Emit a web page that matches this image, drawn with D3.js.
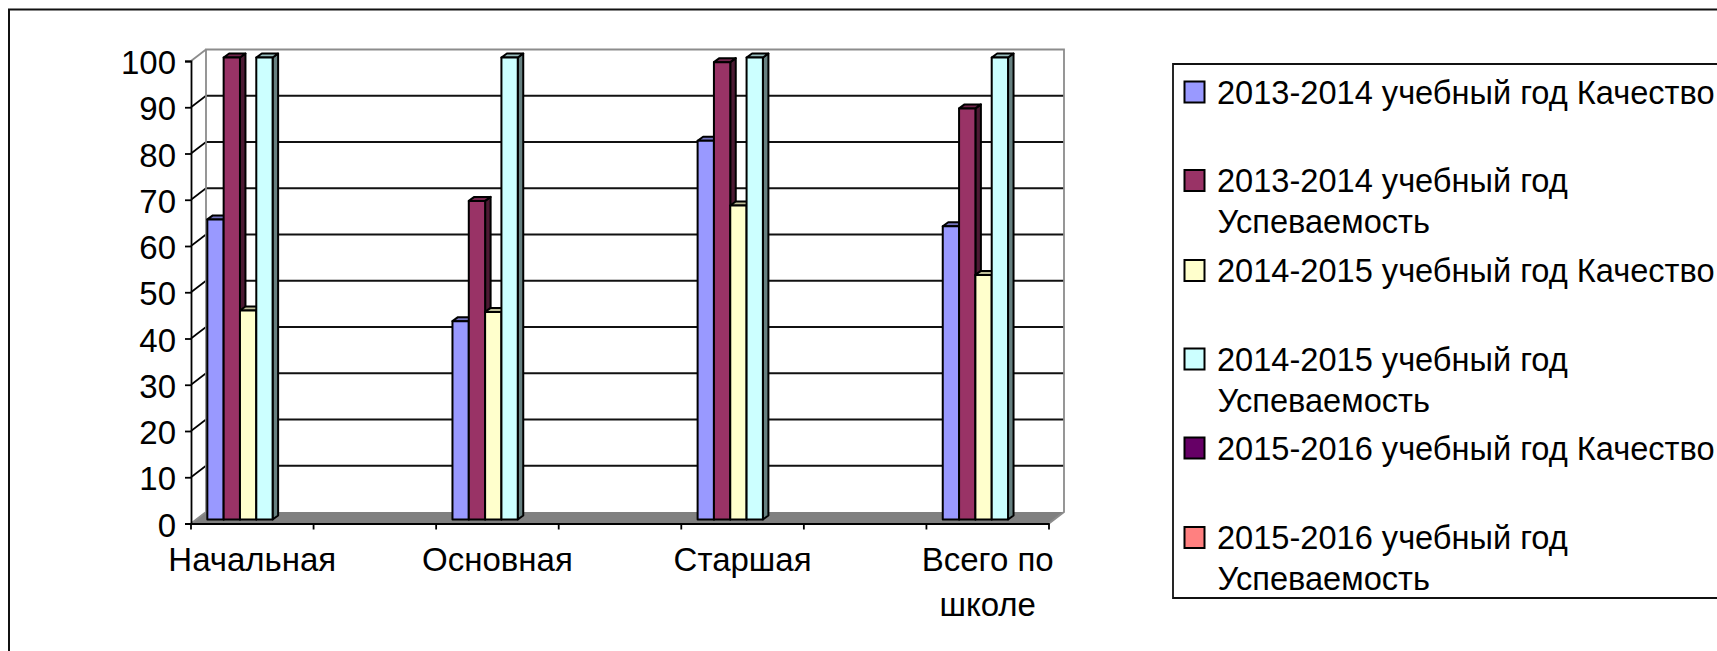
<!DOCTYPE html>
<html><head><meta charset="utf-8">
<script src="https://cdn.jsdelivr.net/npm/d3@7/dist/d3.min.js"></script>
<style>
html,body{margin:0;padding:0;background:#fff;overflow:hidden}
svg{display:block}
text{font-family:"Liberation Sans",Arial,sans-serif;font-size:33px;fill:#000}
</style></head><body>
<script>
const categories = ["Начальная", "", "Основная", "", "Старшая", "", "Всего по школе"];
const seriesNames = [
  "2013-2014 учебный год Качество",
  "2013-2014 учебный год Успеваемость",
  "2014-2015 учебный год Качество",
  "2014-2015 учебный год Успеваемость",
  "2015-2016 учебный год Качество",
  "2015-2016 учебный год Успеваемость"
];
const legendLines = [
  ["2013-2014 учебный год Качество"],
  ["2013-2014 учебный год", "Успеваемость"],
  ["2014-2015 учебный год Качество"],
  ["2014-2015 учебный год", "Успеваемость"],
  ["2015-2016 учебный год Качество"],
  ["2015-2016 учебный год", "Успеваемость"]
];
const colors = ["#9999FF", "#993366", "#FFFFCC", "#CCFFFF", "#660066", "#FF8080"];
const s1314q = [65, null, 43, null, 82, null, 63.5];
const s1314u = [100, null, 69, null, 99, null, 89];
const s1415q = [45.3, null, 45, null, 68, null, 53];
const s1415u = [100, null, 100, null, 100, null, 100];
const s1516q = [null, null, null, null, null, null, null];
const s1516u = [null, null, null, null, null, null, null];
const allSeries = [s1314q, s1314u, s1415q, s1415u, s1516q, s1516u];
const yTicks = [0, 10, 20, 30, 40, 50, 60, 70, 80, 90, 100];

const W = 1717, H = 651;
const axisX0 = 191, axisX1 = 1049, axisY0 = 523.5, axisY1 = 61;
const wallDx = 15, wallDy = -11.5;
const barShift = [4, -3.5], barDepth = [5.5, -4];

const svg = d3.select("body").append("svg").attr("width", W).attr("height", H);

const y = d3.scaleLinear().domain([0, 100]).range([axisY0, axisY1]);
const x = d3.scaleBand().domain(d3.range(categories.length)).range([axisX0, axisX1]);
const xs = d3.scaleBand().domain(d3.range(seriesNames.length))
  .range([0, x.bandwidth()]).paddingInner(0).paddingOuter(0.755);

// chart frame
svg.append("path").attr("d", `M9,${H + 5}V9.5H${W + 5}`)
  .attr("fill", "none").attr("stroke", "#111").attr("stroke-width", 2);

// floor
const wallTop = y(100) + wallDy;
const wallBot = y(0) + wallDy;
const wallL = axisX0 + wallDx, wallR = axisX1 + wallDx;
svg.append("path")
  .attr("d", `M${axisX0},${axisY0}L${wallL},${wallBot}H${wallR}L${axisX1},${axisY0}Z`)
  .attr("fill", "#808080");

// gridlines and their diagonals
const gridTicks = yTicks.filter(t => t > 0 && t < 100);
svg.append("g").selectAll("line").data(gridTicks).join("line")
  .attr("x1", wallL).attr("x2", wallR)
  .attr("y1", d => y(d) + wallDy).attr("y2", d => y(d) + wallDy)
  .attr("stroke", "#111").attr("stroke-width", 1.9);
svg.append("g").selectAll("line").data(gridTicks).join("line")
  .attr("x1", axisX0).attr("x2", wallL)
  .attr("y1", d => y(d)).attr("y2", d => y(d) + wallDy)
  .attr("stroke", "#000").attr("stroke-width", 1.6);

// wall border
svg.append("path")
  .attr("d", `M${axisX0},${axisY0}L${wallL},${wallBot}V${wallTop}H${wallR}V${wallBot}L${axisX1},${axisY0}`)
  .attr("fill", "none").attr("stroke", "#8c8c8c").attr("stroke-width", 1.8);
svg.append("path")
  .attr("d", `M${axisX0},${y(100)}L${wallL},${wallTop}`)
  .attr("fill", "none").attr("stroke", "#8c8c8c").attr("stroke-width", 1.8);

// bars
function shade(c, k) {
  const r = d3.rgb(c);
  return d3.rgb(r.r * k, r.g * k, r.b * k).formatHex();
}
const [sx, sy] = barShift, [dx, dy] = barDepth;
function styled(sel) {
  return sel.attr("stroke", "#000").attr("stroke-width", 2).attr("stroke-linejoin", "round");
}
const barLayer = svg.append("g");
categories.forEach((cat, ci) => {
  allSeries.forEach((values, si) => {
    const v = values[ci];
    if (v === null) return;
    const l = x(ci) + xs(si) + sx, r = l + xs.bandwidth();
    const t = y(v) + sy, b = y(0) + sy - 0.5;
    styled(barLayer.append("path"))
      .attr("d", `M${r},${t}L${r + dx},${t + dy}V${b + dy}L${r},${b}Z`)
      .attr("fill", shade(colors[si], 0.5));
    styled(barLayer.append("path"))
      .attr("d", `M${l},${t}L${l + dx},${t + dy}H${r + dx}L${r},${t}Z`)
      .attr("fill", shade(colors[si], 0.75));
    styled(barLayer.append("rect"))
      .attr("x", l).attr("y", t).attr("width", r - l).attr("height", b - t)
      .attr("fill", colors[si]);
  });
});

// y axis
const yAxis = svg.append("g").attr("transform", `translate(${axisX0},0)`)
  .call(d3.axisLeft(y).tickValues(yTicks).tickSize(6).tickPadding(9).tickFormat(d3.format("d")));
yAxis.selectAll("path,line").attr("stroke", "#000").attr("stroke-width", 1.8);
yAxis.selectAll("text").style("font-size", "33px").style("font-family", '"Liberation Sans"').attr("fill", "#000").attr("y", 2);

// x axis
const xAxis = svg.append("g").attr("transform", `translate(0,${axisY0})`)
  .call(d3.axisBottom(x).tickSize(0).tickPadding(24).tickFormat(i => categories[i]));
xAxis.select("path.domain").attr("stroke", "#000").attr("stroke-width", 1.8);
xAxis.selectAll("text").style("font-size", "33px").style("font-family", '"Liberation Sans"').attr("fill", "#000")
  .each(function (i) {
    if (categories[i] === "Всего по школе") {
      const t = d3.select(this).text(null);
      t.append("tspan").attr("x", 0).text("Всего по");
      t.append("tspan").attr("x", 0).attr("dy", 45).text("школе");
    }
  });
svg.append("g").selectAll("line").data(d3.range(categories.length + 1)).join("line")
  .attr("x1", i => axisX0 + i * x.step()).attr("x2", i => axisX0 + i * x.step())
  .attr("y1", axisY0).attr("y2", axisY0 + 6)
  .attr("stroke", "#000").attr("stroke-width", 1.8);

// legend
svg.append("path").attr("d", `M${W + 5},64V598H1173V64H${W + 5}`)
  .attr("fill", "none").attr("stroke", "#111").attr("stroke-width", 1.8);
const legendBase = [103.5, 192, 282, 370.5, 459.5, 549];
const legend = svg.append("g").selectAll("g").data(seriesNames).join("g")
  .attr("transform", (d, i) => `translate(1184,${legendBase[i]})`);
legend.append("rect").attr("x", 0.5).attr("y", -22).attr("width", 20).attr("height", 21)
  .attr("fill", (d, i) => colors[i]).attr("stroke", "#000").attr("stroke-width", 2);
legend.append("text").attr("x", 33).style("font-size", "32.6px").each(function (d, i) {
  const t = d3.select(this);
  legendLines[i].forEach((line, li) => {
    t.append("tspan").attr("x", li ? 33.5 : 33).attr("y", li * 41).text(line);
  });
});
</script>
</body></html>
